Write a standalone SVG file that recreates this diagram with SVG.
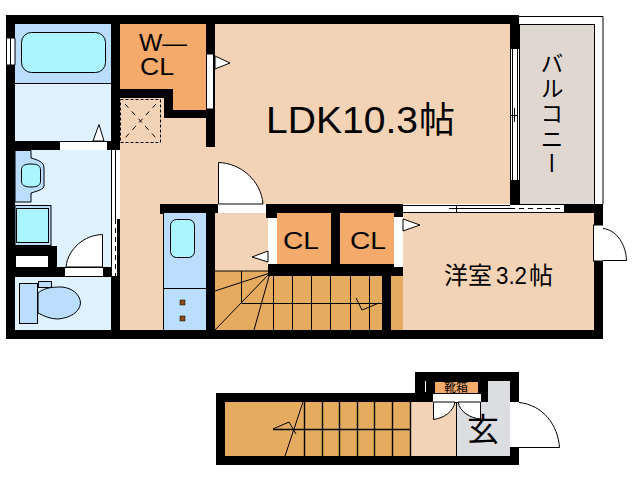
<svg xmlns="http://www.w3.org/2000/svg" width="638" height="480" viewBox="0 0 638 480">
<style>
.w{fill:#000}
.o{fill:#fff;stroke:#000;stroke-width:1}
.ln{fill:none;stroke:#000;stroke-width:1}
.th{fill:none;stroke:#000;stroke-width:1.4}
.t{font-family:"Liberation Sans","Noto Sans CJK JP",sans-serif;fill:#000}
.j{font-family:"Noto Sans CJK JP","Liberation Sans",sans-serif;fill:#000;text-anchor:middle}
</style>
<g id="floors">
<rect x="15" y="24" width="96" height="59" fill="#bbdefe"/>
<rect x="15" y="83" width="96" height="58" fill="#dff2ff"/>
<rect x="15" y="150" width="96" height="117" fill="#dff2ff"/>
<rect x="15" y="277" width="96" height="53" fill="#dff2ff"/>
<path d="M215 24H510V204H215V213H268V271H215V330H120V98H215Z" fill="#f2d3b6"/>
<rect x="163" y="213" width="43" height="117" fill="#bbdefe"/>
<rect x="403" y="213" width="191" height="117" fill="#f2d3b6"/>
<path d="M215 271H268V276H403V330H215Z" fill="#e5ab5f"/>
<rect x="225" y="402" width="185" height="54" fill="#e5ab5f"/>
<rect x="410" y="402" width="47" height="54" fill="#f2d3b6"/>
<rect x="457" y="381" width="53" height="75" fill="#dcdde0"/>
</g>
<g id="balcony">
<path d="M519 16.500H603V204" fill="none" stroke="#000"/>
<rect x="519.500" y="24.500" width="75" height="180" fill="#e0d8d0" stroke="#000"/>
<text font-family="'Noto Sans CJK JP',sans-serif" fill="#000" font-size="23" letter-spacing="2" x="552" y="52" style="writing-mode:vertical-rl">バルコニー</text>
</g>
<g id="w-cl">
<path d="M120 24H206V110H173V89H120Z" fill="#f4aa6b"/>
<text class="t" font-size="24" x="139" y="51" textLength="48" lengthAdjust="spacingAndGlyphs">W—</text>
<text class="t" font-size="23" x="140" y="75" textLength="34" lengthAdjust="spacingAndGlyphs">CL</text>
</g>
<g id="cl-1">
<rect x="277" y="213" width="54" height="54" fill="#f4aa6b"/>
<text class="t" font-size="24" x="283" y="248.500" textLength="36" lengthAdjust="spacingAndGlyphs">CL</text>
</g>
<g id="cl-2">
<rect x="340" y="213" width="54" height="54" fill="#f4aa6b"/>
<text class="t" font-size="24" x="350" y="248.500" textLength="36" lengthAdjust="spacingAndGlyphs">CL</text>
</g>
<g id="walls">
<rect class="w" x="6" y="15" width="513" height="9"/>
<rect class="w" x="6" y="24" width="9" height="14"/>
<rect class="w" x="111" y="24" width="9" height="126"/>
<rect class="w" x="206" y="24" width="9" height="123"/>
<rect class="w" x="510" y="24" width="9" height="25"/>
<path class="w" d="M6 65H15V339H6Z"/>
<path class="w" d="M120 89H173V110H215V118H164V98H120Z"/>
<path class="w" d="M15 141H111V150H15Z"/>
<path class="w" d="M15 246H57V267H111V277H7V267H15Z"/>
<path class="w" d="M111 276H120V330H111Z"/>
<path class="w" d="M117 219H120V276H117Z"/>
<path class="w" d="M7 330H603V339H7Z"/>
<path class="w" d="M160 204H218V213H215V330H206V213H163V214H160Z"/>
<path class="w" d="M266 204H403V217H394V213H340V270H331V213H277V218H266Z"/>
<path class="w" d="M268 264H403V276H391V330H382V276H268Z"/>
<path class="w" d="M510 180H519V205H510Z"/>
<path class="w" d="M564 204H603V339H594V213H564Z"/>
<path class="w" d="M216 393H415V372H519V465H216ZM225 402V456H510V381H488V402H415V402Z" fill-rule="evenodd"/>
</g>
<g id="stairs">
<path class="ln" d="M215 271H270M241.500 271V303M241.500 303.500H382M273.500 276V330M292.500 276V330M311.500 276V330M330.500 276V330M350.500 276V330M369.500 276V330M270 273L215 291M270 273L215 330M270 273L254 330"/>
<path class="ln" d="M356 298L362 310L379 303"/>
<path class="th" d="M273 429.500H410M304.500 402V456M322.500 402V456M339.500 402V456M357.500 402V456M374.500 402V456M392.500 402V456M410.500 402V456"/>
<path class="ln" d="M303 402L285 456M273 429L289 422L296 434"/>
<path class="ln" d="M456.500 402V456"/>
</g>
<g id="bath">
<rect x="6" y="38" width="9" height="27" fill="#fff"/>
<path class="ln" d="M6.500 38V65M10.500 38V65M15 38V65M6 38H15M6 65H15"/>
<rect x="21.500" y="32.500" width="84" height="40" rx="10" fill="#aaf5ff" stroke="#000"/>
<path class="ln" d="M15 83.500H111"/>
</g>
<g id="bath-door">
<rect x="60" y="142" width="47" height="8" fill="#fff"/>
<path class="o" d="M93 141L99 124.500L104 141Z"/>
</g>
<g id="wash">
<path d="M15 150.500H31V158C38 160 44 162 44 168V186C44 189 38 191 31 193V202H15Z" fill="#bbdefe" stroke="#000"/>
<path d="M21.500 170C21.500 166 24 164 31 164C38 164 40.500 166 40.500 170V181C40.500 185 38 187 31 187C24 187 21.500 185 21.500 181Z" fill="#aaf5ff" stroke="#000"/>
<rect x="15" y="205.500" width="36" height="40" fill="#bbdefe" stroke="#000"/>
<rect x="16.500" y="208.500" width="32" height="34" fill="#aaf5ff" stroke="#000"/>
<rect x="16" y="256" width="32" height="11" fill="#fff"/>
<rect x="112" y="150" width="7" height="69" fill="#fff"/>
<rect x="112" y="219" width="5" height="57" fill="#fff"/>
<path class="ln" d="M111.500 150V276M115.500 150V219"/>
<path class="ln" d="M115.500 219V276" stroke-dasharray="5 4"/>
<rect x="65" y="267" width="38" height="9" fill="#fff"/>
<path class="o" d="M102.500 267V234.500C85 235 68 248 66 267Z"/>
<path class="ln" d="M65 267.500H103"/>
</g>
<g id="toilet">
<rect x="19.500" y="283.500" width="18" height="40" fill="#bbdefe" stroke="#000"/>
<rect x="38.500" y="281.500" width="13" height="6" fill="#bbdefe" stroke="#000"/>
<path d="M38 293C45 287 55 287 62 287C72 288 80 294 80.500 303C80 312 70 318 58 319C50 319 44 316 38 313Z" fill="#bbdefe" stroke="#000"/>
</g>
<g id="storage">
<rect x="170.500" y="219.500" width="24" height="38" rx="6" fill="#aaf5ff" stroke="#000"/>
<path class="ln" d="M163 288.500H206M163.500 213V330"/>
<rect x="180" y="300" width="5" height="5" fill="#8a4b10" stroke="#000" stroke-width=".5"/>
<rect x="180" y="316" width="5" height="5" fill="#8a4b10" stroke="#000" stroke-width=".5"/>
</g>
<g id="pipe-space">
<rect x="120.500" y="99.500" width="40" height="43" fill="none" stroke="#000" stroke-dasharray="3 2"/>
<path class="ln" d="M125 104L156 138M156 104L125 138" stroke-dasharray="5 5"/>
</g>
<g id="ldk">
<text class="t" font-size="37" x="266" y="133" textLength="152" lengthAdjust="spacingAndGlyphs">LDK10.3</text>
<text class="j" font-size="36" x="437" y="133">帖</text>
</g>
<g id="ldk-doors">
<rect x="206" y="54" width="8" height="55" fill="#fff"/>
<path class="ln" d="M206.500 54V109M213.500 54V109M206 54H214M206 109H214"/>
<path class="o" d="M215 56L230 63L215 69Z"/>
<rect x="218" y="205" width="48" height="8" fill="#fff"/>
<path class="o" d="M218.500 204V162.500C240 163 261 180 263 204Z"/>
<rect x="268" y="218" width="9" height="46" fill="#fff"/>
<path class="o" d="M268 251L252 257L268 262Z"/>
<rect x="394" y="217" width="9" height="50" fill="#fff"/>
<path class="o" d="M403 219L420 225L403 231Z"/>
</g>
<g id="balcony-window">
<rect x="510" y="49" width="8" height="131" fill="#fff"/>
<path class="ln" d="M510.500 49V180M512.500 49V180M517.500 49V180M510 115.500H518M514.500 108V122"/>
</g>
<g id="room-window">
<rect x="403" y="205" width="161" height="8" fill="#fff"/>
<path class="ln" d="M403 205.500H510M403 212.500H510M449 208.500H510M456.500 205V213"/>
<path class="ln" d="M510 208.500H564" stroke-dasharray="5 4"/>
<path class="ln" d="M510 212.500H564"/>
</g>
<g id="room">
<text class="j" font-size="24" x="468" y="284">洋室</text>
<text class="t" font-size="24" x="496" y="284" textLength="31" lengthAdjust="spacingAndGlyphs">3.2</text>
<text class="j" font-size="24" x="541" y="284">帖</text>
<rect x="593" y="225" width="10" height="36" fill="#fff"/>
<path class="ln" d="M593.500 225V261M603 225H593M603 261H593"/>
<path class="ln" d="M603 228.500C617 230 626 245 626.500 260.500H603"/>
</g>
<g id="entrance">
<rect x="435" y="382" width="43" height="11" fill="#f4aa6b"/>
<text class="j" font-size="12" x="456" y="392">靴箱</text>
<rect x="425" y="381" width="1" height="11" fill="#fff"/>
<rect x="433" y="393" width="48" height="9" fill="#fff"/>
<path class="ln" d="M433 393.500H481M433 402.500H481"/>
<path class="o" d="M433.500 402V419.500C444 418 453 412 455 402Z"/>
<path class="o" d="M480.500 402V419C470 418 460 412 458 402Z"/>
<text class="j" font-size="32" x="483" y="441">玄</text>
<rect x="510" y="401" width="9" height="47" fill="#fff"/>
<path class="ln" d="M510 401.500H519M510 447.500H519"/>
<path class="ln" d="M519 402.500C543 405 558 425 559.500 447.500H519"/>
</g>
</svg>
